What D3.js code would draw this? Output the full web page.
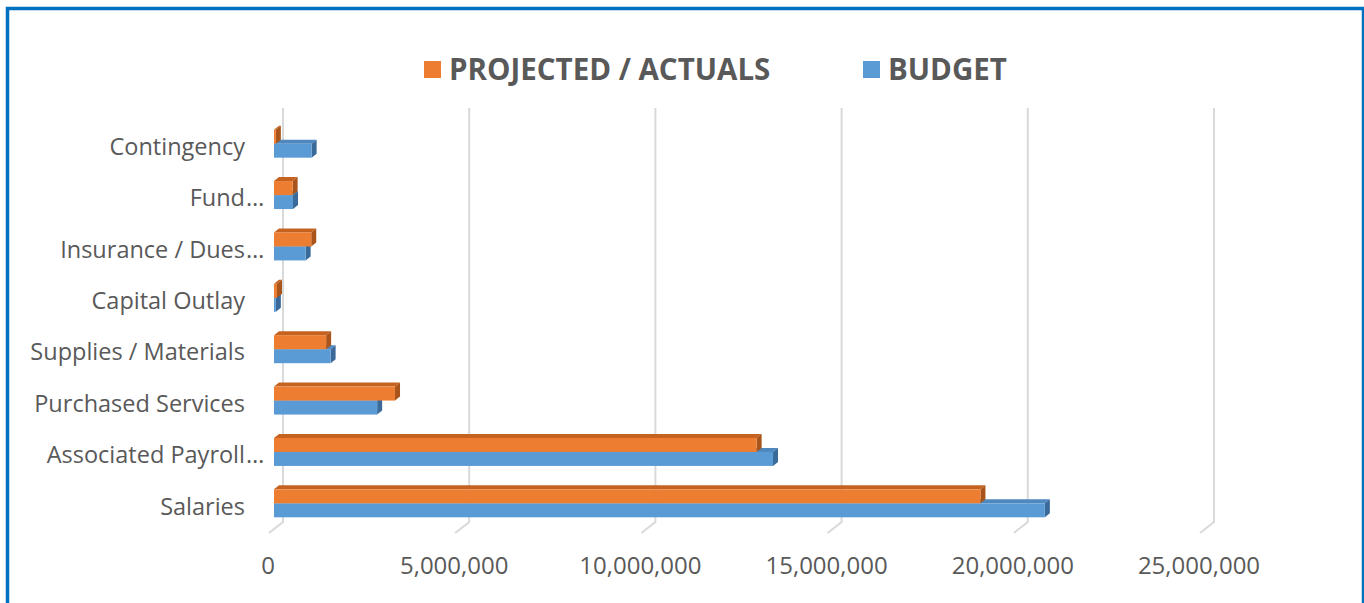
<!DOCTYPE html>
<html>
<head>
<meta charset="utf-8">
<script src="https://cdn.jsdelivr.net/npm/d3@7"></script>
<style>
  body { margin: 0; background: #fff; }
  svg { display: block; font-family: 'Open Sans', sans-serif; }
</style>
</head>
<body>
<svg id="chart" width="1364" height="603"></svg>
<script>
// data (bottom to top)
const categories = ['Salaries', 'Associated Payroll…', 'Purchased Services', 'Supplies / Materials',
  'Capital Outlay', 'Insurance / Dues…', 'Fund…', 'Contingency'];
const projected = [18970000, 12960000, 3250000, 1400000, 80000, 1000000, 500000, 50000];
const budget = [20700000, 13400000, 2770000, 1520000, 50000, 850000, 510000, 1010000];
const ticks = [0, 5000000, 10000000, 15000000, 20000000, 25000000];
const seriesNames = ['PROJECTED / ACTUALS', 'BUDGET'];

const svg = d3.select('svg#chart');
const textColor = '#595959';
const colors = {
  projected: {front: '#ED7D31', top: '#C5621F', side: '#A9541A'},
  budget: {front: '#5B9BD5', top: '#4F88BF', side: '#3A6A9A'}
};
const depth = {dx: 5, dy: -4};

// chart border
svg.append('rect')
  .attr('x', 7.5).attr('y', 8.5)
  .attr('width', 1356).attr('height', 640)
  .attr('fill', 'none')
  .attr('stroke', '#0070C0')
  .attr('stroke-width', 3.5);

const xScale = d3.scaleLinear().domain([0, 25000000]).range([274, 1205]);
const yScale = d3.scaleBand()
  .domain(categories.slice().reverse())
  .range([118, 529]);

//gridlines on the back wall, with their floor segment
const grid = svg.append('g');
ticks.forEach(t => {
  const x = xScale(t);
  grid.append('polyline')
    .attr('points', `${x + 9},108 ${x + 9},522 ${x - 5},533`)
    .attr('fill', 'none')
    .attr('stroke', '#D9D9D9')
    .attr('stroke-width', 2);
});

// x tick labels
svg.append('g').selectAll('text').data(ticks)
  .enter().append('text')
  .attr('x', d => xScale(d) - 6)
  .attr('y', 566)
  .attr('dy', '0.35em')
  .attr('text-anchor', 'middle')
  .attr('fill', textColor)
  .attr('font-size', 24)
  .text(d => d3.format(',')(d));

// category labels, truncated ones hang their ellipsis past the edge
const catLabels = svg.append('g');
categories.forEach(cat => {
  const y = yScale(cat) + yScale.bandwidth() / 2 + 3;
  const cut = cat.endsWith('…');
  catLabels.append('text')
    .attr('x', 245).attr('y', y)
    .attr('dy', '0.35em')
    .attr('text-anchor', 'end')
    .attr('fill', textColor)
    .attr('font-size', 23.5)
    .text(cut ? cat.slice(0, -1) : cat);
  if (cut) {
    catLabels.append('text')
      .attr('x', 246).attr('y', y)
      .attr('dy', '0.35em')
      .attr('fill', textColor)
      .attr('font-size', 23.5)
      .text('…');
  }
});

const barH = 14;

const drawBar = (g, x0, x1, y, c) => {
  const {dx, dy} = depth;
  g.append('polygon')
    .attr('points', `${x0},${y} ${x0 + dx},${y + dy} ${x1 + dx},${y + dy} ${x1},${y}`)
    .attr('fill', c.top);
  g.append('polygon')
    .attr('points', `${x1},${y} ${x1 + dx},${y + dy} ${x1 + dx},${y + barH + dy} ${x1},${y + barH}`)
    .attr('fill', c.side);
  g.append('rect')
    .attr('x', x0).attr('y', y)
    .attr('width', Math.max(0, x1 - x0)).attr('height', barH)
    .attr('fill', c.front);
};

const bars = svg.append('g');
categories.forEach((cat, i) => {
  const mid = yScale(cat) + yScale.bandwidth() / 2;
  // budget first so the projected bar covers its top face
  drawBar(bars, xScale(0), xScale(budget[i]), mid, colors.budget);
  drawBar(bars, xScale(0), xScale(projected[i]), mid - barH, colors.projected);
});

// legend
const legend = svg.append('g');
const legendItems = [
  {name: seriesNames[0], color: colors.projected.front, x: 424},
  {name: seriesNames[1], color: colors.budget.front, x: 863}
];
legendItems.forEach(d => {
  legend.append('rect')
    .attr('x', d.x).attr('y', 61)
    .attr('width', 17).attr('height', 17)
    .attr('fill', d.color);
  legend.append('text')
    .attr('x', d.x + 25).attr('y', 70)
    .attr('dy', '0.35em')
    .attr('fill', textColor)
    .attr('font-size', 29.5)
    .attr('font-weight', 'bold')
    .text(d.name);
});
</script>
</body>
</html>
